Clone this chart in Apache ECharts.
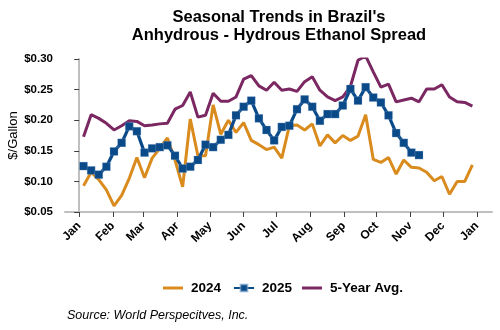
<!DOCTYPE html>
<html><head><meta charset="utf-8">
<script src="https://cdn.jsdelivr.net/npm/echarts@6/dist/echarts.min.js"></script>
<style>html,body{margin:0;padding:0;background:#fff}#c{width:500px;height:330px}</style>
</head><body><div id="c"></div>
<script>
// ---- data ----
const monthLabels = ['Jan','Feb','Mar','Apr','May','Jun','Jul','Aug','Sep','Oct','Nov','Dec','Jan'];
const monthStartDays = [0,31,59,90,120,151,181,212,243,273,304,334,365];
const yTickValues = [0.05,0.10,0.15,0.20,0.25,0.30];
const firstWeekDay = 4;   // day-of-year offset of first weekly observation
const series2024 = [0.093,0.115,0.103,0.086,0.060,0.077,0.105,0.139,0.106,0.138,0.154,0.171,0.135,0.091,0.202,0.142,
  0.142,0.225,0.177,0.200,0.180,0.196,0.167,0.160,0.152,0.156,0.138,0.191,0.192,0.184,0.194,0.158,0.176,0.163,0.175,
  0.167,0.174,0.209,0.136,0.131,0.139,0.112,0.135,0.123,0.122,0.115,0.101,0.108,0.079,0.100,0.100,0.127];
const series2025 = [0.125,0.118,0.111,0.124,0.149,0.163,0.190,0.182,0.147,0.154,0.156,0.159,0.142,0.121,0.124,0.135,
  0.160,0.156,0.168,0.176,0.208,0.222,0.232,0.203,0.184,0.167,0.189,0.191,0.218,0.234,0.222,0.199,0.210,0.210,0.224,
  0.251,0.232,0.254,0.237,0.229,0.208,0.179,0.163,0.147,0.143];
const avg5yr = [0.173,0.209,0.203,0.195,0.184,0.191,0.199,0.198,0.191,0.192,0.194,0.195,0.218,0.224,0.246,0.205,
  0.208,0.244,0.231,0.231,0.238,0.267,0.273,0.256,0.249,0.262,0.249,0.251,0.247,0.263,0.271,0.249,0.238,0.232,0.238,
  0.255,0.298,0.305,0.279,0.254,0.259,0.230,0.233,0.236,0.230,0.251,0.251,0.258,0.238,0.230,0.229,0.223];

const toPts = arr => arr.map((v, i) => [firstWeekDay + 7 * i, v]);

const FONT = 'Liberation Sans, Arial, sans-serif';
const C24 = '#D98B1E', C25 = '#0B4A89', CAVG = '#7B2862';
const legendText = {fontFamily: FONT, fontSize: 13.5, fontWeight: 'bold', color: '#000', padding: [0,0,0,3]};
const chart = echarts.init(document.getElementById('c'), null, {renderer: 'canvas'});
chart.setOption({
  animation: false,
  backgroundColor: '#fff',
  title: {
    text: "Seasonal Trends in Brazil's\nAnhydrous - Hydrous Ethanol Spread",
    left: 274, top: 3, textAlign: 'center',
    textStyle: {fontFamily: FONT, fontSize: 16.5, fontWeight: 'bold', color: '#000', lineHeight: 18}
  },
  grid: {left: 65, right: 8, top: 59, bottom: 118, outerBoundsMode: 'none', containLabel: false},
  legend: [
    {left: 158, top: 276, itemWidth: 20, itemHeight: 3, icon: 'rect', textStyle: legendText, data: ['2024']},
    {left: 228, top: 276, itemWidth: 20, itemHeight: 9, textStyle: legendText, data: ['2025']},
    {left: 297, top: 276, itemWidth: 20, itemHeight: 3, icon: 'rect', textStyle: legendText, data: ['5-Year Avg.']}
  ],
  graphic: [{
    type: 'text', left: 67, top: 309,
    style: {text: 'Source: World Perspecitves, Inc.', font: 'italic 12.5px ' + FONT, fill: '#000'}
  }],
  xAxis: {
    type: 'value', min: -13, max: 379,
    axisLine: {lineStyle: {color: '#bfbfbf', width: 2}},
    axisTick: {customValues: monthStartDays, length: 5, lineStyle: {color: '#404040'}},
    axisLabel: {
      customValues: monthStartDays,
      formatter: v => monthLabels[monthStartDays.indexOf(v)],
      rotate: 45, margin: 12,
      fontFamily: FONT, fontSize: 12, fontWeight: 'bold', color: '#000'
    },
    splitLine: {show: false}
  },
  yAxis: {
    type: 'value', min: 0.05, max: 0.30, interval: 0.05,
    name: '$/Gallon', nameLocation: 'middle', nameGap: 45, nameRotate: 90, nameMoveOverlap: false,
    nameTextStyle: {fontFamily: FONT, fontSize: 13, color: '#000'},
    axisLine: {show: true, lineStyle: {color: '#bfbfbf', width: 2}},
    axisTick: {show: true, length: 5, lineStyle: {color: '#404040'}},
    axisLabel: {
      customValues: yTickValues,
      formatter: v => '$' + v.toFixed(2), margin: 12,
      fontFamily: FONT, fontSize: 11.5, fontWeight: 'bold', color: '#000'
    },
    splitLine: {show: false}
  },
  series: [
    {name: '2024', type: 'line', data: toPts(series2024), showSymbol: false, symbol: 'none',
     lineStyle: {color: C24, width: 3}, itemStyle: {color: C24}, z: 2},
    {name: '2025', type: 'line', data: toPts(series2025), symbol: 'rect', symbolSize: 8, showSymbol: true,
     lineStyle: {color: C25, width: 3.2}, itemStyle: {color: C25, borderColor: 'rgba(150,180,215,0.5)', borderWidth: 0.5}, z: 4},
    {name: '5-Year Avg.', type: 'line', data: toPts(avg5yr), showSymbol: false, symbol: 'none',
     lineStyle: {color: CAVG, width: 3}, itemStyle: {color: CAVG}, z: 3}
  ]
});
</script></body></html>
